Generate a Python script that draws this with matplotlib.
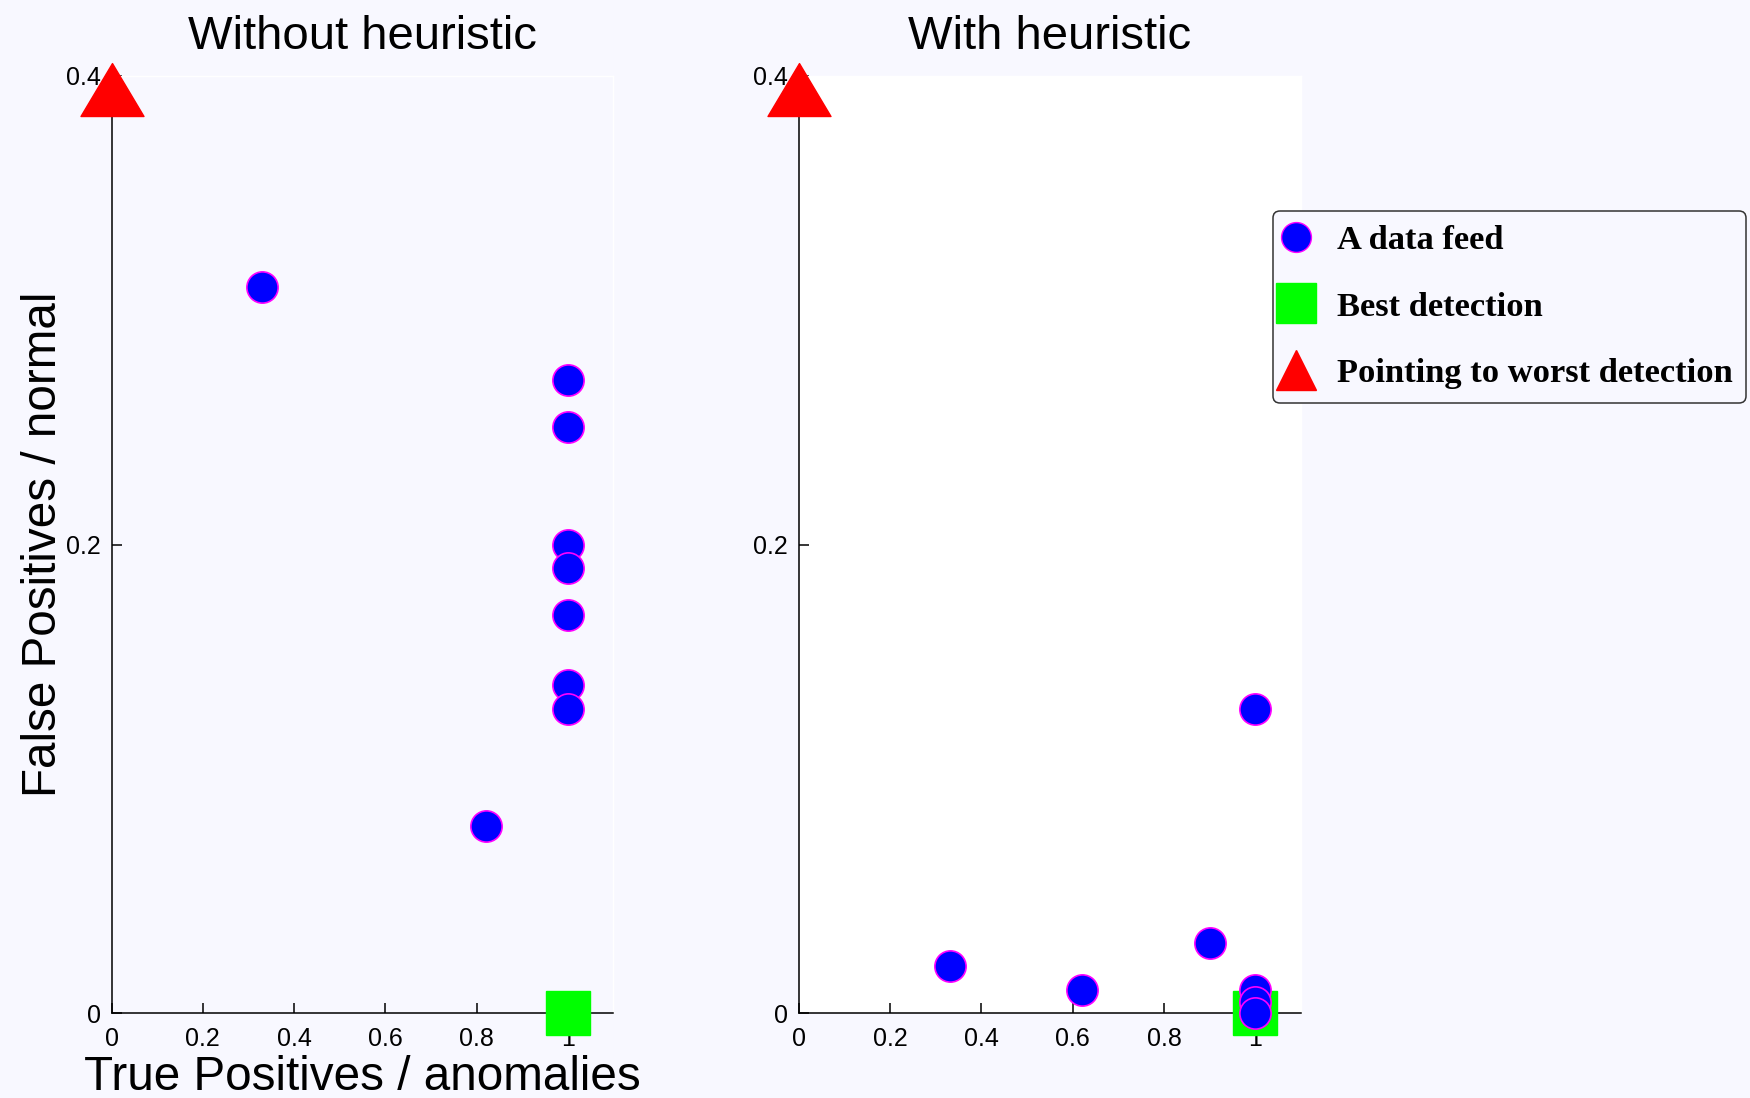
import matplotlib
matplotlib.use("Agg")
import matplotlib.pyplot as plt
from matplotlib.lines import Line2D
from matplotlib.path import Path

# values
left_tp = [0.33, 1.0, 1.0, 1.0, 1.0, 1.0, 1.0, 1.0, 0.82]
left_fp = [0.31, 0.27, 0.25, 0.20, 0.19, 0.17, 0.14, 0.13, 0.08]
right_tp = [0.33, 0.62, 0.90, 1.0, 1.0, 1.0, 1.0]
right_fp = [0.02, 0.01, 0.03, 0.13, 0.01, 0.005, 0.0]
best_pt = [1.0, 0.0]
worst_pt = [0.0, 0.4]
titles = ["Without heuristic", "With heuristic"]
xticks = [0, 0.2, 0.4, 0.6, 0.8, 1]
xticklabels = ["0", "0.2", "0.4", "0.6", "0.8", "1"]
yticks = [0, 0.2, 0.4]
yticklabels = ["0", "0.2", "0.4"]
legend_labels = ["A data feed", "Best detection", "Pointing to worst detection"]

bg = "#F8F8FF"
plt.rcParams["font.family"] = ["Liberation Sans", "DejaVu Sans"]

fig = plt.figure(figsize=(17.5, 10.98), dpi=100, facecolor=bg)
ax1 = fig.add_axes([0.0638, 0.0771, 0.2867, 0.8539])
ax2 = fig.add_axes([0.4566, 0.0771, 0.2867, 0.8539])

# triangle whose tip sits just above the point (like the original marker)
tri = Path([(-1, -1.27), (1, -1.27), (0, 0.41), (-1, -1.27)],
           [Path.MOVETO, Path.LINETO, Path.LINETO, Path.CLOSEPOLY])

for ax, tp, fp, title, fc in [(ax1, left_tp, left_fp, titles[0], bg),
                              (ax2, right_tp, right_fp, titles[1], "white")]:
    ax.set_facecolor(fc)
    ax.set_xlim(0, 1.1)
    ax.set_ylim(0, 0.4)
    ax.plot([best_pt[0]], [best_pt[1]], ls="none", marker="s", ms=31,
            mfc="#00FF00", mec="#00FF00", clip_on=False, zorder=3)
    ax.plot(tp, fp, ls="none", marker="o", ms=22.5, mfc="blue",
            mec="magenta", mew=1.2, clip_on=False, zorder=4)
    ax.plot([worst_pt[0]], [worst_pt[1]], ls="none", marker=tri, ms=57.6,
            mfc="red", mec="red", clip_on=False, zorder=5)
    ax.set_xticks(xticks)
    ax.set_xticklabels(xticklabels)
    ax.set_yticks(yticks)
    ax.set_yticklabels(yticklabels)
    ax.tick_params(direction="in", length=7, width=1.1, labelsize=18)
    ax.tick_params(axis="x", pad=10)
    ax.tick_params(axis="y", pad=8)
    for s in ["left", "bottom"]:
        ax.spines[s].set_linewidth(1.1)
    for s in ["top", "right"]:
        ax.spines[s].set_color("white")
        ax.spines[s].set_linewidth(1)
    ax.set_title(title, fontsize=34, pad=19)

ax1.set_xlabel("True Positives / anomalies", fontsize=34.3, labelpad=3)
ax1.set_ylabel("False Positives / normal", fontsize=34.3, labelpad=0)

handles = [
    Line2D([], [], ls="none", marker="o", ms=21.5, mfc="blue", mec="magenta", mew=1),
    Line2D([], [], ls="none", marker="s", ms=29, mfc="#00FF00", mec="#00FF00"),
    Line2D([], [], ls="none", marker="^", ms=29.5, mfc="red", mec="red"),
]
leg = fig.legend(handles, legend_labels, loc="upper left",
                 bbox_to_anchor=(0.7274, 0.8078), borderaxespad=0,
                 prop={"family": "Liberation Serif", "weight": "bold", "size": 24.8},
                 facecolor=bg, edgecolor="#333333", framealpha=1,
                 fancybox=True, borderpad=0.4, labelspacing=1.03,
                 handlelength=0.55, handletextpad=0.9)
leg.get_frame().set_linewidth(1.1)

fig.savefig("out.png", dpi=100, facecolor=bg)
